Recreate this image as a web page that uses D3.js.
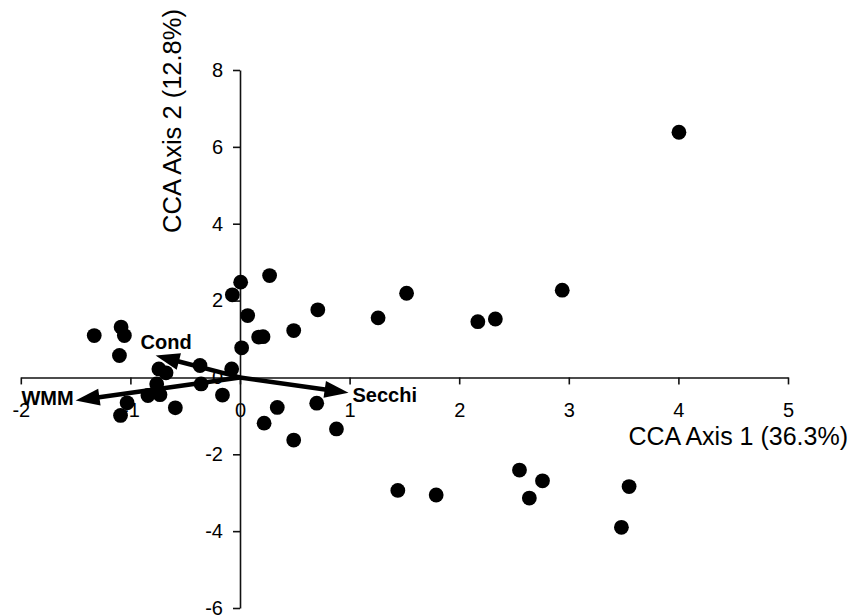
<!DOCTYPE html>
<html>
<head>
<meta charset="utf-8">
<script src="https://cdn.jsdelivr.net/npm/d3@7"></script>
<style>
  html, body { margin: 0; padding: 0; background: #fff; }
  svg { display: block; }
  text { font-family: "Liberation Sans", Arial, sans-serif; fill: #000; }
</style>
</head>
<body>
<svg id="chart" width="853" height="615"></svg>
<script>
// Site scores (CCA axis 1, CCA axis 2)
const siteX = [4.005, 1.52, 2.17, 2.33, 2.94, 1.44, 1.79, 2.55, 2.76, 2.64, 3.55, 3.48,
  0.006, -0.07, 0.27, 0.07, 0.17, 0.21, 0.49, 0.71, 1.26, 0.015, -0.076, -0.16, 0.34, 0.70,
  0.22, 0.88, 0.49, -1.33, -1.085, -1.055, -1.10, -0.74, -0.675, -0.365, -0.76, -0.84, -0.73,
  -0.355, -0.59, -1.03, -1.09];
const siteY = [6.38, 2.19, 1.45, 1.52, 2.27, -2.94, -3.06, -2.41, -2.69, -3.14, -2.84, -3.90,
  2.48, 2.15, 2.65, 1.61, 1.05, 1.06, 1.22, 1.76, 1.55, 0.77, 0.22, -0.46, -0.78, -0.67,
  -1.19, -1.34, -1.63, 1.09, 1.31, 1.09, 0.57, 0.22, 0.12, 0.31, -0.17, -0.47, -0.45,
  -0.17, -0.79, -0.66, -0.99];

// Environmental vectors
const envNames = ["Secchi", "Cond", "WMM"];
const envX = [0.99, -0.77, -1.50];
const envY = [-0.40, 0.57, -0.60];

// Ticks and titles
const xTicks = [-2, -1, 0, 1, 2, 3, 4, 5];
const yTicks = [-6, -4, -2, 0, 2, 4, 6, 8];
const xTitle = "CCA Axis 1 (36.3%)";
const yTitle = "CCA Axis 2 (12.8%)";

const svg = d3.select("#chart");
const x = d3.scaleLinear().domain([-2, 5]).range([20.8, 788]);
const y = d3.scaleLinear().domain([-6, 8]).range([608, 70]);

// X axis at y = 0
const gx = svg.append("g")
  .attr("transform", `translate(0,${y(0)})`)
  .call(d3.axisBottom(x).tickValues(xTicks).tickFormat(d3.format("d"))
    .tickSize(7).tickSizeOuter(0).tickPadding(18));
gx.select(".domain").attr("stroke", "#111").attr("stroke-width", 1.6);
gx.selectAll(".tick line").attr("stroke", "#111").attr("stroke-width", 1.6);
gx.selectAll(".tick text").attr("font-size", 20).attr("dy", "0.71em")
  .text(d => d < 0 ? "-" + Math.abs(d) : d);

// Y axis at x = 0
const gy = svg.append("g")
  .attr("transform", `translate(${x(0)},0)`)
  .call(d3.axisLeft(y).tickValues(yTicks).tickFormat(d3.format("d"))
    .tickSize(7).tickSizeOuter(0).tickPadding(10));
gy.select(".domain").attr("stroke", "#111").attr("stroke-width", 1.6);
gy.selectAll(".tick line").attr("stroke", "#111").attr("stroke-width", 1.6);
gy.selectAll(".tick text").attr("font-size", 20)
  .text(d => d < 0 ? "-" + Math.abs(d) : d);

svg.selectAll("g.tick text").style("font-family", "'Liberation Sans', Arial, sans-serif");

// Axis titles
svg.append("text").attr("x", 848).attr("y", 445).attr("text-anchor", "end")
  .attr("font-size", 25).text(xTitle);
svg.append("text").attr("transform", `translate(181,121) rotate(-90)`)
  .attr("text-anchor", "middle").attr("font-size", 25.5).text(yTitle);

// Site points
const pts = siteX.map((v, i) => ({ x: v, y: siteY[i] }));
svg.append("g").selectAll("circle").data(pts).join("circle")
  .attr("cx", d => x(d.x)).attr("cy", d => y(d.y)).attr("r", 7.4).attr("fill", "#000");

// Environmental arrows
const env = envNames.map((n, i) => ({ name: n, x: envX[i], y: envY[i] }));
const headLen = 24, headHalf = 8.5;
const ag = svg.append("g");
env.forEach(d => {
  const x0 = x(0), y0 = y(0), x1 = x(d.x), y1 = y(d.y);
  const dx = x1 - x0, dy = y1 - y0, L = Math.hypot(dx, dy);
  const ux = dx / L, uy = dy / L;
  const bx = x1 - ux * headLen, by = y1 - uy * headLen;
  ag.append("line").attr("x1", x0).attr("y1", y0).attr("x2", bx + ux * 2).attr("y2", by + uy * 2)
    .attr("stroke", "#000").attr("stroke-width", 4.5);
  ag.append("path")
    .attr("d", `M${x1},${y1}L${bx - uy * headHalf},${by + ux * headHalf}L${bx + uy * headHalf},${by - ux * headHalf}Z`)
    .attr("fill", "#000");
});

// Vector labels
const labelOffsets = { Secchi: [4, 9, "start"], Cond: [-15, -7, "start"], WMM: [-2, 5, "end"] };
ag.selectAll("text.env").data(env).join("text").attr("class", "env")
  .attr("x", d => x(d.x) + labelOffsets[d.name][0])
  .attr("y", d => y(d.y) + labelOffsets[d.name][1])
  .attr("text-anchor", d => labelOffsets[d.name][2])
  .attr("font-size", 20).attr("font-weight", "bold").text(d => d.name);
</script>
</body>
</html>
